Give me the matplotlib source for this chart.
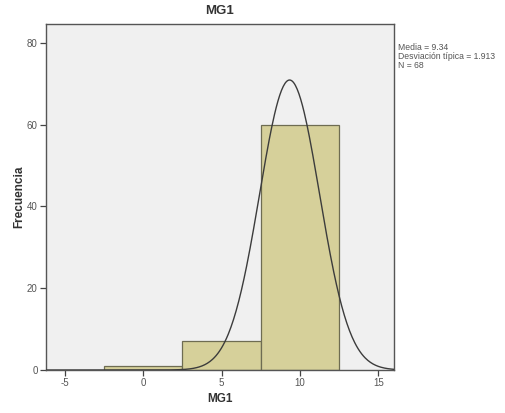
import numpy as np
import matplotlib
matplotlib.use("Agg")
import matplotlib.pyplot as plt

plt.rcParams["font.family"] = ["Liberation Sans", "DejaVu Sans"]
plt.rcParams["axes.unicode_minus"] = False

# Histogram of MG1 (bin width 5) with fitted normal curve
bin_edges = [-2.5, 2.5, 7.5, 12.5]
counts = [1, 7, 60]
mean = 9.34
sd = 1.913
n = 68

bar_color = "#d6d09a"
edge_color = "#6e6c52"

fig = plt.figure(figsize=(5.06, 4.13), dpi=100)
fig.patch.set_facecolor("white")
ax = fig.add_axes([0.0909, 0.1041, 0.6877, 0.8378])
ax.set_facecolor("#f0f0f0")

widths = np.diff(bin_edges)
ax.bar(bin_edges[:-1], counts, width=widths, align="edge",
       color=bar_color, edgecolor=edge_color, linewidth=0.9, zorder=2)

xs = np.linspace(-6.2, 16.0, 400)
bw = widths[0]
ys = n * bw / (sd * np.sqrt(2 * np.pi)) * np.exp(-0.5 * ((xs - mean) / sd) ** 2)
ax.plot(xs, ys, color="#3c3c3c", linewidth=1.0, zorder=3)

ax.set_xlim(-6.2, 16.0)
ax.set_ylim(0, 84.6)
ax.set_xticks([-5, 0, 5, 10, 15])
ax.set_yticks([0, 20, 40, 60, 80])

for side in ["left", "bottom", "right", "top"]:
    ax.spines[side].set_color("#555555")
    ax.spines[side].set_linewidth(1.0)

ax.tick_params(axis="both", direction="out", length=4, width=0.9,
               color="#444444", labelsize=7, labelcolor="#555555", pad=2)

ax.set_title("MG1", fontsize=9.5, fontweight="bold", color="#333333", pad=7)
ax.set_xlabel("MG1", fontsize=8.5, fontweight="bold", color="#333333", labelpad=3)
ax.set_ylabel("Frecuencia", fontsize=8.5, fontweight="bold", color="#333333", labelpad=1)

fig.text(398 / 506, 1 - 43 / 413,
         f"Media = {mean:.2f}\nDesviación típica = {sd:.3f}\nN = {n}",
         fontsize=6.2, color="#555555", va="top", ha="left", linespacing=1.0)

fig.savefig("out.png", dpi=100)
